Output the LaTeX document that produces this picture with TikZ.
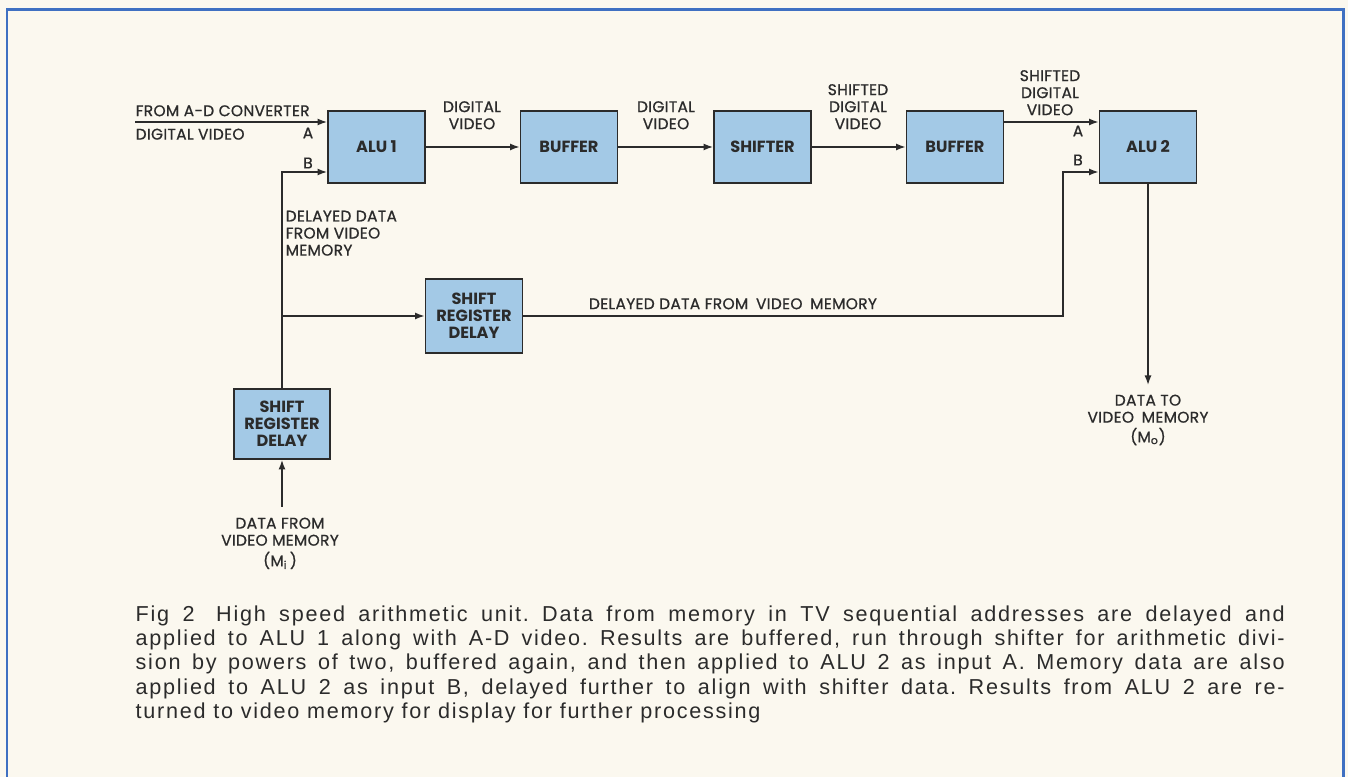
\documentclass[tikz,border=0pt]{standalone}
\usepackage{fontspec}
\setmainfont{Liberation Sans}
\newfontfamily\diafont{Poppins}[LetterSpace=2, FakeBold=0.8]
\newfontfamily\boxfont{Poppins}
\newfontfamily\capfont{Liberation Sans}[LetterSpace=8]
\usetikzlibrary{arrows.meta, positioning, calc}
\definecolor{cblue}{HTML}{A3C9E6}
\definecolor{cframe}{HTML}{3F70C2}
\definecolor{cink}{HTML}{2B2B2B}
\definecolor{cpaper}{HTML}{FBF8EF}
\newcommand\capline[1]{\makebox[22.98cm][s]{#1}}
\tikzset{
  every picture/.style={line width=0.8pt},
  box/.style={draw=cink, fill=cblue, minimum width=1.94cm, minimum height=1.44cm, align=center, inner sep=2pt, line width=1.1pt, text=cink, font=\boxfont\bfseries\fontsize{9.2}{9.7}\selectfont},
  arrow/.style={-{Latex[length=1.9mm, width=1.4mm]}, draw=cink, line width=0.8pt},
  note/.style={font=\diafont\fontsize{8.8}{9.7}\selectfont, text=cink, align=center, inner sep=0pt},
  capnote/.style={font=\capfont\frenchspacing\fontsize{12.3}{13.8}\selectfont, text=cink, align=left, inner sep=0pt},
}

\begin{document}
\begin{tikzpicture}
  \fill[cpaper] (0,0) rectangle (26.96,15.54);
  \useasboundingbox (0,0) rectangle (26.96,15.54);
  \draw[cframe, line width=1.7pt] (0.14,-1) |- (26.86,15.34) -- (26.86,-1);
  \node[box] (alu1) at (7.53,12.6) {ALU 1};
  \node[box] (buf1) at (11.38,12.6) {BUFFER};
  \node[box] (shift) at (15.25,12.6) {SHIFTER};
  \node[box] (buf2) at (19.1,12.6) {BUFFER};
  \node[box] (alu2) at (22.96,12.6) {ALU 2};
  \node[box, minimum height=1.48cm] (srd2) at (9.48,9.22) {SHIFT\\REGISTER\\DELAY};
  \node[box, minimum width=1.92cm, minimum height=1.4cm] (srd1) at (5.64,7.06) {SHIFT\\REGISTER\\DELAY};
  \coordinate (adc) at (2.7,13.1); \coordinate (mi) at (5.64,5.4);
  \coordinate (mo) at (22.96,7.84); \coordinate (bend) at (21.26,9.22);
  \draw[arrow] (adc) -- (adc -| alu1.west);
  \draw[arrow] (srd1.north) |- ($(alu1.west)+(0,-0.5)$);
  \draw[arrow] (srd1.north |- srd2.west) -- (srd2.west);
  \draw[arrow] (alu1) -- (buf1); \draw[arrow] (buf1) -- (shift); \draw[arrow] (shift) -- (buf2);
  \draw[arrow] ($(buf2.east)+(0,0.5)$) -- ($(alu2.west)+(0,0.5)$);
  \draw[arrow] (srd2.east) -- (bend) |- ($(alu2.west)+(0,-0.5)$);
  \draw[arrow] (alu2.south) -- (mo);
  \draw[arrow] (mi) -- (srd1.south);
  \node[note, anchor=south west] at (2.7,13.2) {FROM A-D CONVERTER};
  \node[note, anchor=north west] at (2.7,12.98) {DIGITAL VIDEO};
  \node[note] at (6.16,12.88) {A}; \node[note] at (6.16,12.28) {B};
  \node[note, align=left, anchor=north west] at (5.7,11.34) {DELAYED DATA\\FROM VIDEO\\MEMORY};
  \node[note, anchor=south] at (9.44,12.94) {DIGITAL\\VIDEO};
  \node[note, anchor=south] at (13.32,12.94) {DIGITAL\\VIDEO};
  \node[note, anchor=south] at (17.16,12.94) {SHIFTED\\DIGITAL\\VIDEO};
  \node[note, anchor=south] at (21.0,13.22) {SHIFTED\\DIGITAL\\VIDEO};
  \node[note] at (21.56,12.92) {A}; \node[note] at (21.56,12.34) {B};
  \node[note, anchor=south] at (14.66,9.34) {DELAYED DATA FROM\enspace VIDEO\enspace MEMORY};
  \node[note, anchor=north] at (22.96,7.66) {DATA TO\\VIDEO\enspace MEMORY\\[1.5pt](M\textsubscript{o})};
  \node[note, anchor=north] at (5.6,5.2) {DATA FROM\\VIDEO MEMORY\\[2pt](M\textsubscript{i}\,)};
  \node[capnote, anchor=north west] (cap) at (2.7,3.44) {\capline{Fig 2\quad High speed arithmetic unit. Data from memory in TV sequential addresses are delayed and}\\
    \capline{applied to ALU 1 along with A-D video. Results are buffered, run through shifter for arithmetic divi-}\\
    \capline{sion by powers of two, buffered again, and then applied to ALU 2 as input A. Memory data are also}\\
    \capline{applied to ALU 2 as input B, delayed further to align with shifter data. Results from ALU 2 are re-}\\
    turned to video memory for display for further processing};
\end{tikzpicture}
\end{document}
